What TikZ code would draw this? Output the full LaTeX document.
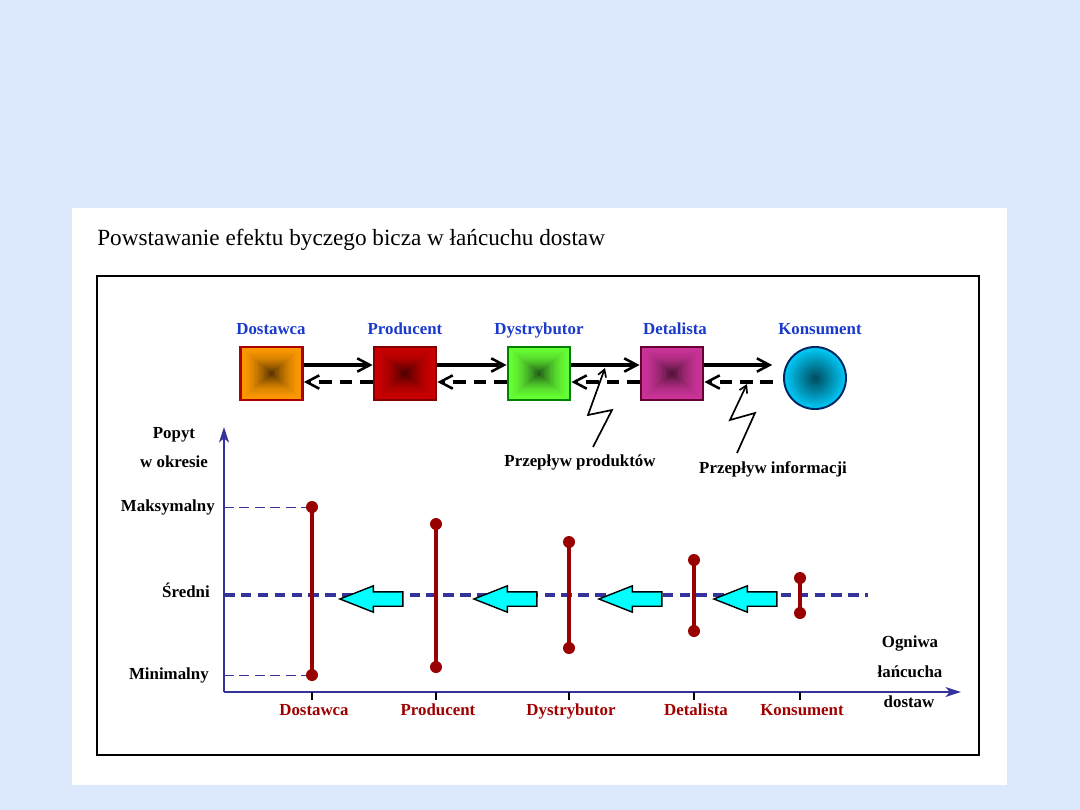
\documentclass[tikz,border=0pt]{standalone}
\usepackage{fontspec}
\setmainfont{Liberation Serif}
\usepackage{tikz}
\usetikzlibrary{arrows.meta, positioning, calc, shapes.geometric, shapes.arrows}

\definecolor{pagebg}{RGB}{220,233,252}
\definecolor{topblue}{RGB}{26,58,204}
\definecolor{chainred}{RGB}{160,0,0}
\definecolor{axisblue}{RGB}{51,51,153}
\definecolor{barred}{RGB}{153,0,0}
\definecolor{demandcyan}{RGB}{0,255,255}
\definecolor{dostEdge}{RGB}{255,153,0}
\definecolor{dostCore}{RGB}{90,55,0}
\definecolor{dostLine}{RGB}{170,0,0}
\definecolor{prodEdge}{RGB}{204,0,0}
\definecolor{prodCore}{RGB}{80,0,0}
\definecolor{prodLine}{RGB}{130,0,0}
\definecolor{dystEdge}{RGB}{102,255,51}
\definecolor{dystCore}{RGB}{35,95,25}
\definecolor{dystLine}{RGB}{0,130,0}
\definecolor{detEdge}{RGB}{204,51,153}
\definecolor{detCore}{RGB}{80,20,55}
\definecolor{detLine}{RGB}{102,0,51}
\definecolor{konsEdge}{RGB}{0,204,250}
\definecolor{konsCore}{RGB}{0,75,95}
\definecolor{konsLine}{RGB}{0,40,100}

\newcommand{\lblfont}{\fontsize{12}{14}\selectfont\bfseries}
% pyramid shading inside a box: #1 edge colour, #2 centre colour
\newcommand{\pyr}[2]{%
  \foreach \k in {0,...,24}{
    \pgfmathsetmacro{\f}{1-\k/25}
    \pgfmathsetmacro{\p}{100*(\k/24)^1.7}
    \fill[#2!\p!#1] ($(path picture bounding box.center)!\f!(path picture bounding box.north west)$) rectangle ($(path picture bounding box.center)!\f!(path picture bounding box.south east)$);
  }
}

\begin{document}
\begin{tikzpicture}[
  x=0.025cm, y=-0.025cm,
  every node/.style={font=\lblfont},
  unit/.style={draw, line width=2pt, minimum width=1.55cm, minimum height=1.325cm, inner sep=0pt},
  top/.style={text=topblue, anchor=base},
  flow/.style={line width=2.2pt, -{Straight Barb[length=9pt, width=9.5pt, line width=1.8pt]}},
  back/.style={flow, dash pattern=on 9pt off 5.5pt},
  zig/.style={line width=1.2pt, -{Straight Barb[length=5pt, width=6pt]}},
  axis/.style={axisblue, line width=1.4pt, -{Stealth[length=11pt, width=7pt, inset=3pt]}},
  level/.style={axisblue, line width=0.7pt, dash pattern=on 7pt off 4pt},
  avg/.style={axisblue, line width=2.2pt, dash pattern=on 7.5pt off 4.5pt},
  bar/.style={barred, line width=2.4pt},
  dot/.style={circle, fill=barred, inner sep=0pt, minimum size=0.3cm},
  demand/.style={single arrow, draw=black, fill=demandcyan, line width=1pt, inner xsep=0pt, inner ysep=0.1625cm,
    minimum height=1.575cm, single arrow head extend=0.15cm, single arrow tip angle=43, shape border rotate=180, anchor=tip},
  side/.style={anchor=base east, inner xsep=0pt}
]
  % page and panel
  \fill[pagebg] (0,0) rectangle (1080,810);
  \fill[white] (72,208) rectangle (1007,785);
  \node[anchor=base west, inner xsep=0pt, font=\fontsize{16.5}{19}\selectfont] (title) at (97,245) {Powstawanie efektu byczego bicza w łańcuchu dostaw};
  \draw[line width=1pt] (97,276) rectangle (979,755);

  % supply chain
  \node[unit, draw=dostLine, path picture={\pyr{dostEdge}{dostCore}}] (D) at (271.5,373.5) {};
  \node[unit, draw=prodLine, path picture={\pyr{prodEdge}{prodCore}}] (P) at (405,373.5) {};
  \node[unit, draw=dystLine, path picture={\pyr{dystEdge}{dystCore}}] (Y) at (539,373.5) {};
  \node[unit, draw=detLine, path picture={\pyr{detEdge}{detCore}}] (R) at (672,373.5) {};
  \node[circle, draw=konsLine, line width=1.4pt, minimum size=1.55cm, inner sep=0pt,
    inner color=konsCore, outer color=konsEdge] (K) at (815,378) {};

  \node[top] (tD) at (271,334) {Dostawca};
  \node[top] (tP) at (405,334) {Producent};
  \node[top] (tY) at (539,334) {Dystrybutor};
  \node[top] (tR) at (675,334) {Detalista};
  \node[top] (tK) at (820,334) {Konsument};

  \draw[flow] ([yshift=0.2125cm]D.east) -- ([yshift=0.2125cm]P.west);
  \draw[flow] ([yshift=0.2125cm]P.east) -- ([yshift=0.2125cm]Y.west);
  \draw[flow] ([yshift=0.2125cm]Y.east) -- ([yshift=0.2125cm]R.west);
  \draw[flow, shorten >=0.27cm] ([yshift=0.2125cm]R.east) -- ([yshift=0.2125cm]R.east -| K.west);
  \draw[back, shorten <=0.25cm] ([yshift=-0.2125cm]R.east -| K.west) -- ([yshift=-0.2125cm]R.east);
  \draw[back] ([yshift=-0.2125cm]R.west) -- ([yshift=-0.2125cm]Y.east);
  \draw[back] ([yshift=-0.2125cm]Y.west) -- ([yshift=-0.2125cm]P.east);
  \draw[back] ([yshift=-0.2125cm]P.west) -- ([yshift=-0.2125cm]D.east);

  \node[anchor=base] (fP) at (580,466) {Przepływ produktów};
  \node[anchor=base] (fI) at (773,473) {Przepływ informacji};
  \draw[zig] (593,447) -- (612,410) -- (588,415) -- (605,368);
  \draw[zig] (737,453) -- (755,413) -- (730,420) -- (747,384);

  % chart
  \coordinate (O) at (224,692);
  \coordinate (ytop) at (224,427);
  \coordinate (xend) at (961,692);
  \draw[axis] (O) -- (ytop);
  \draw[axis] (O) -- (xend);

  \node[anchor=base] (q1) at (174,438) {Popyt};
  \node[anchor=base] (q2) at (174,467) {w okresie};
  \node[side] (vmax) at (215,511) {Maksymalny};
  \node[side] (vavg) at (210,597) {Średni};
  \node[side] (vmin) at (209,679) {Minimalny};
  \node[anchor=base] (o1) at (910,647) {Ogniwa};
  \node[anchor=base] (o2) at (910,677) {łańcucha};
  \node[anchor=base] (o3) at (909,707) {dostaw};

  \draw[level] (224,507) -- (306,507);
  \draw[level] (224,675) -- (306,675);
  \draw[avg] (224,595) -- (868,595);

  \foreach \x/\hi/\lo/\nm in {312/507/675/Dostawca, 436/524/667/Producent, 569/542/648/Dystrybutor, 694/560/631/Detalista, 800/578/613/Konsument}{
    \draw[bar] (\x,\hi) -- (\x,\lo);
    \node[dot] (hi-\nm) at (\x,\hi) {};
    \node[dot] (lo-\nm) at (\x,\lo) {};
    \draw[line width=1.5pt] (\x,692) -- (\x,700);
    \node[anchor=base, text=chainred] (c-\nm) at (\x+2,715) {\nm};
  }

  \foreach \t [count=\i] in {338, 472, 597, 712}{
    \node[demand] (a\i) at (\t,599) {};
  }
\end{tikzpicture}
\end{document}
